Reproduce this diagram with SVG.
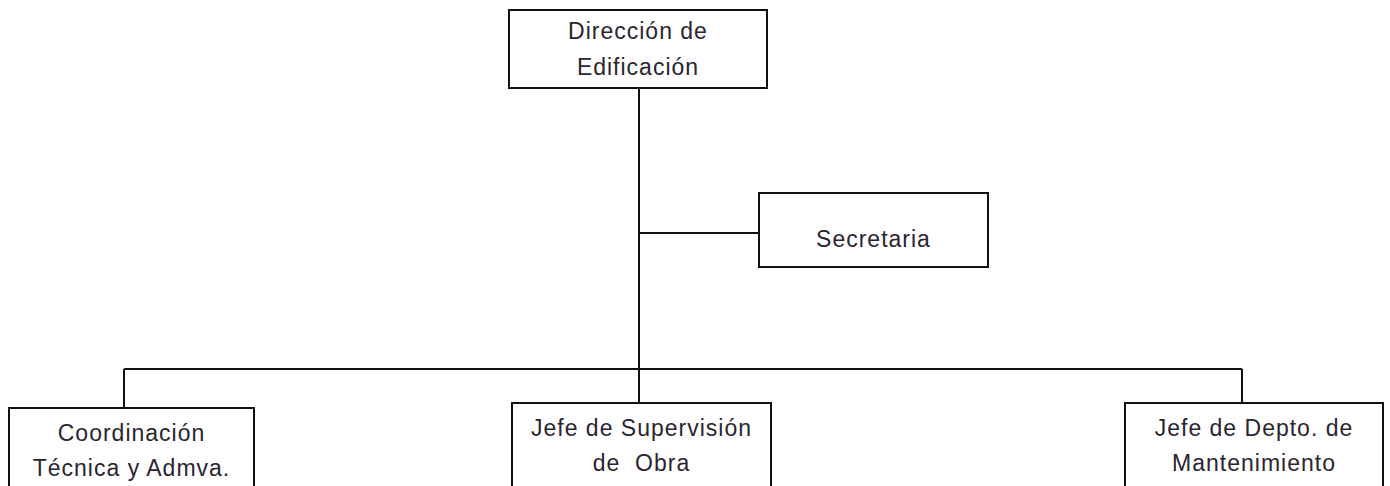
<svg xmlns="http://www.w3.org/2000/svg" width="1390" height="486" viewBox="0 0 1390 486">
<style>
.box{fill:#fff;stroke:#111;stroke-width:2}
.t{font-family:"Liberation Sans",Arial,sans-serif;font-size:23px;fill:#2a2530;text-anchor:middle;letter-spacing:1px}
.c{fill:none;stroke:#111;stroke-width:2}
</style>
<rect width="1390" height="486" fill="#fff"/>
<g id="connectors">
<path class="c" d="M639 88V403"/>
<path class="c" d="M639 233H759"/>
<path class="c" d="M124 369H1242"/>
<path class="c" d="M124 369V408"/>
<path class="c" d="M1242 369V403"/>
</g>
<g id="direccion">
<rect class="box" x="509" y="10" width="258" height="78"/>
<text class="t" x="638" y="39">Dirección de</text>
<text class="t" x="638" y="75">Edificación</text>
</g>
<g id="secretaria">
<rect class="box" x="759" y="193" width="229" height="74"/>
<text class="t" x="873.5" y="247">Secretaria</text>
</g>
<g id="coordinacion">
<rect class="box" x="9" y="408" width="245" height="90"/>
<text class="t" x="131.5" y="441">Coordinación</text>
<text class="t" x="131.5" y="476">Técnica y Admva.</text>
</g>
<g id="supervision">
<rect class="box" x="512" y="403" width="259" height="95"/>
<text class="t" x="641.5" y="436">Jefe de Supervisión</text>
<text class="t" x="641.5" y="471" xml:space="preserve">de  Obra</text>
</g>
<g id="mantenimiento">
<rect class="box" x="1125" y="403" width="258" height="95"/>
<text class="t" x="1254" y="436">Jefe de Depto. de</text>
<text class="t" x="1254" y="471">Mantenimiento</text>
</g>
</svg>
